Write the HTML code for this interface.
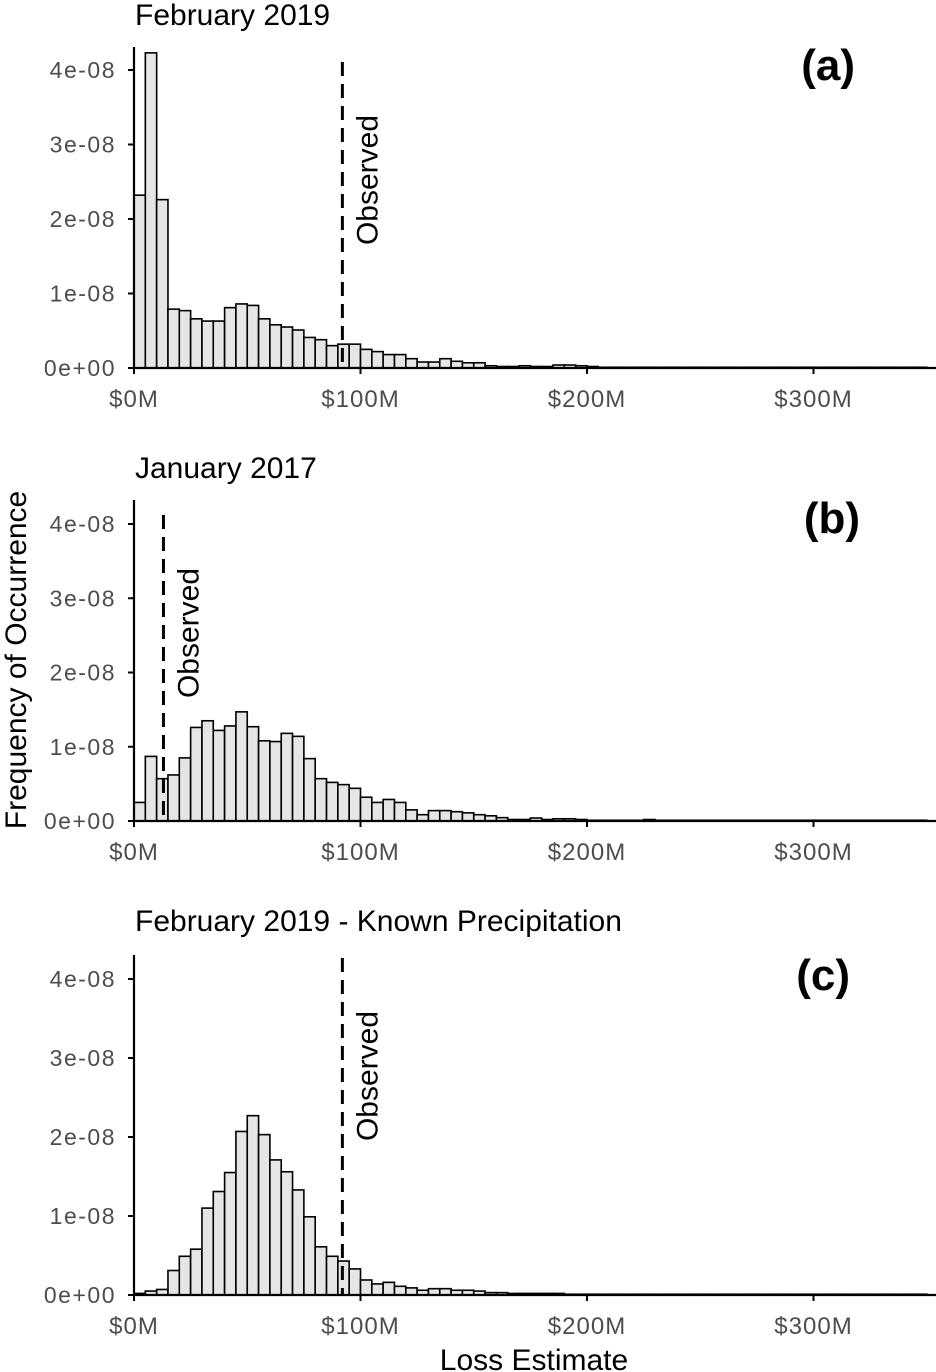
<!DOCTYPE html>
<html><head><meta charset="utf-8"><style>
body{margin:0;background:#fff;}
svg{display:block;font-family:"Liberation Sans",sans-serif;}
</style></head><body>
<svg id="chart" width="936" height="1372" viewBox="0 0 936 1372" xmlns="http://www.w3.org/2000/svg">
<text x="26" y="660" transform="rotate(-90 26 660)" font-size="30" text-anchor="middle" fill="#000">Frequency of Occurrence</text>
<text x="534" y="1370" font-size="30" text-anchor="middle" fill="#000">Loss Estimate</text>
</svg>
<script>
const binWidthM = 5;
const xTicks = [0, 100, 200, 300];
const xTickLabels = ["$0M", "$100M", "$200M", "$300M"];
const yTicks = [0, 1, 2, 3, 4];
const yTickLabels = ["0e+00", "1e-08", "2e-08", "3e-08", "4e-08"];
const titles = ["February 2019", "January 2017", "February 2019 - Known Precipitation"];
const letters = ["(a)", "(b)", "(c)"];
const observed = [92, 13, 92];
const seriesA = [2.32,4.23,2.26,0.79,0.77,0.66,0.63,0.63,0.81,0.86,0.84,0.66,0.58,0.55,0.51,0.41,0.38,0.30,0.32,0.32,0.25,0.22,0.18,0.18,0.125,0.08,0.08,0.125,0.09,0.07,0.07,0.03,0.02,0.02,0.03,0.02,0.02,0.04,0.04,0.03,0.02,0.01,0.01,0.01,0.01,0.01,0.01,0.01,0.01,0.01,0.01,0.01,0.01,0.01,0.01,0.01,0.01,0.01,0.01,0.01,0.01,0.01,0.01,0.01,0.01,0.01,0.01,0.01,0.01,0.01];
const seriesB = [0.25,0.87,0.57,0.62,0.85,1.26,1.35,1.22,1.28,1.47,1.27,1.08,1.07,1.18,1.14,0.84,0.57,0.52,0.49,0.44,0.32,0.25,0.29,0.25,0.15,0.085,0.14,0.14,0.125,0.11,0.085,0.07,0.045,0.02,0.02,0.04,0.02,0.03,0.03,0.02,0.01,0.01,0.01,0.01,0.01,0.02,0.01,0.01,0.01,0.01,0.01,0.01,0.01,0.01,0.01,0.01,0.01,0.01,0.01,0.01,0.01,0.01,0.01,0.01,0.01,0.01,0.01,0.01,0.01,0.01];
const seriesC = [0.02,0.05,0.07,0.31,0.49,0.58,1.10,1.31,1.55,2.07,2.27,2.03,1.71,1.56,1.33,0.99,0.61,0.49,0.43,0.33,0.19,0.14,0.16,0.11,0.09,0.06,0.08,0.08,0.06,0.06,0.05,0.03,0.03,0.02,0.02,0.02,0.02,0.02,0.01,0.01,0.01,0.01,0.01,0.01,0.01,0.01,0.01,0.01,0.01,0.01,0.01,0.01,0.01,0.01,0.01,0.01,0.01,0.01,0.01,0.01,0.01,0.01,0.01,0.01,0.01,0.01,0.01,0.01,0.01,0.01];
const allSeries = [seriesA, seriesB, seriesC];
const panels = [
 {base:368, top4:70, axTop:47, titleY:25, letterY:80, obsTop:62, letterX:855},
 {base:821, top4:524, axTop:500, titleY:478, letterY:533, obsTop:515, letterX:860},
 {base:1295, top4:979, axTop:955, titleY:931, letterY:990, obsTop:958, letterX:850}
];
const svg = document.getElementById('chart');
const NS = 'http://www.w3.org/2000/svg';
function mk(tag, attrs, parent){const e=document.createElementNS(NS,tag);for(const k in attrs)e.setAttribute(k,attrs[k]);(parent||svg).appendChild(e);return e;}
const xScale = m => 134 + m*2.265;
panels.forEach((p,pi)=>{
  const yScale = v => p.base - v*(p.base-p.top4)/4;
  const g = mk('g',{});
  
  
  allSeries[pi].forEach((v,i)=>{
    const x0=xScale(i*binWidthM), x1=xScale((i+1)*binWidthM);
    if(x0>=936) return;
    const r=mk('rect',{x:x0,y:yScale(v),width:x1-x0,height:p.base-yScale(v),fill:'#e5e5e5',stroke:'#000','stroke-width':1.6},g);
    
    
  });
  const ox=xScale(observed[pi]);
  const l=mk('line',{x1:ox,x2:ox,y1:p.obsTop,y2:p.base,stroke:'#000','stroke-width':3,'stroke-dasharray':'14,8'},g);
  
  
  const ty=p.obsTop+118;
  const t=mk('text',{x:ox+35,y:ty,transform:`rotate(-90 ${ox+35} ${ty})`,'font-size':30,'text-anchor':'middle',fill:'#000'},g);
  t.textContent='Observed';
  
  
  const ax=mk('path',{d:`M134 ${p.axTop} V${p.base} H936`,stroke:'#000','stroke-width':2.2,fill:'none'},g);
  
  
  yTicks.forEach((v,i)=>{
    const y=yScale(v);
    mk('line',{x1:128,x2:134,y1:y,y2:y,stroke:'#000','stroke-width':2},g);
    const tl=mk('text',{x:116,y:y+8,'font-size':23,'letter-spacing':1.5,'text-anchor':'end',fill:'#4d4d4d'},g);
    tl.textContent=yTickLabels[i];
    
    
  });
  xTicks.forEach((m,i)=>{
    const x=xScale(m);
    mk('line',{x1:x,x2:x,y1:p.base,y2:p.base+6,stroke:'#000','stroke-width':2},g);
    const tl=mk('text',{x:x,y:p.base+39,'font-size':24,'letter-spacing':1,'text-anchor':'middle',fill:'#4d4d4d'},g);
    tl.textContent=xTickLabels[i];
    
    
  });
  const tt=mk('text',{x:135,y:p.titleY,'font-size':30,fill:'#000'},g);
  tt.textContent=titles[pi];
  
  
  const lt=mk('text',{x:p.letterX,y:p.letterY,'font-size':44,'font-weight':'bold','text-anchor':'end',fill:'#000'},g);
  lt.textContent=letters[pi];
  
  
});
</script>
</body></html>
